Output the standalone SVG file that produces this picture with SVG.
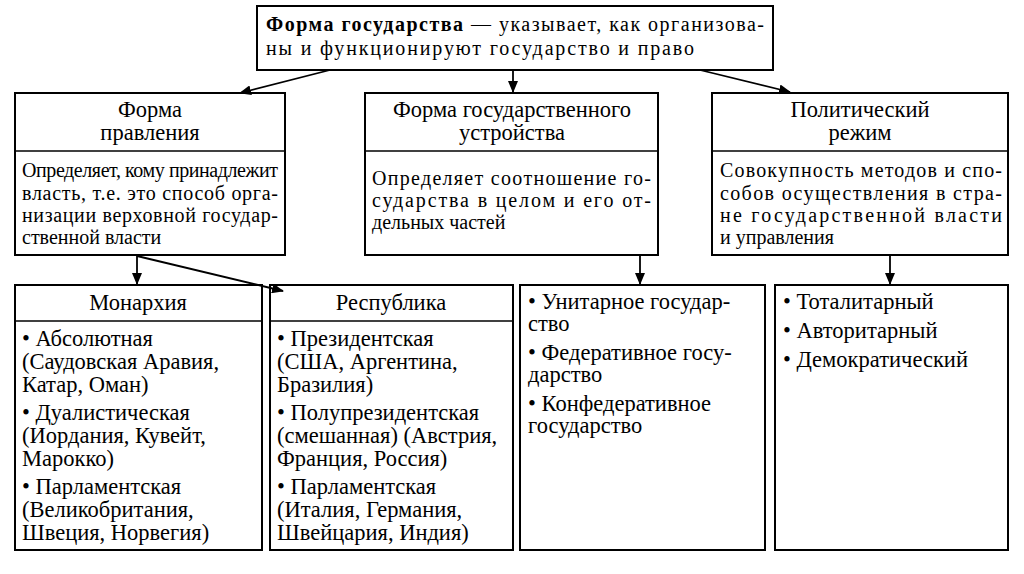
<svg xmlns="http://www.w3.org/2000/svg" width="1024" height="574" viewBox="0 0 1024 574">
<defs><marker id="a" markerWidth="12" markerHeight="10" refX="11" refY="5" orient="auto" markerUnits="userSpaceOnUse"><path d="M0,0 L12,5 L0,10 Z" fill="#000"/></marker></defs>
<style>
rect{fill:#fff;stroke:#000;stroke-width:2}
line.s{stroke:#000;stroke-width:1.5}
text{font-family:"Liberation Serif",serif;font-size:20px;fill:#000}
.c{text-anchor:middle}
.b text{font-size:22.5px}
.h{font-size:22.5px}
.con line{stroke:#000;stroke-width:1.8;marker-end:url(#a)}
</style>
<rect width="1024" height="574" style="fill:#fff;stroke:none"/>
<g id="top"><rect x="257" y="6" width="516" height="64"/>
<text x="266" y="31" textLength="498" lengthAdjust="spacing"><tspan font-weight="bold">Форма государства</tspan> — указывает, как организова-</text>
<text x="266" y="55" textLength="428" lengthAdjust="spacing">ны и функционируют государство и право</text></g>
<g id="fp"><rect x="15" y="93" width="270" height="162"/><line class="s" x1="15" y1="151" x2="285" y2="151"/>
<text class="c h" x="150" y="117">Форма</text><text class="c h" x="150" y="140">правления</text>
<text x="22" y="177" textLength="256" lengthAdjust="spacing">Определяет, кому принадлежит</text><text x="22" y="200" textLength="256" lengthAdjust="spacing">власть, т.е. это способ орга-</text><text x="22" y="222" textLength="256" lengthAdjust="spacing">низации верховной государ-</text><text x="22" y="244">ственной власти</text></g>
<g id="fu"><rect x="365" y="93" width="293" height="162"/><line class="s" x1="365" y1="151" x2="658" y2="151"/>
<text class="c h" x="512" y="117">Форма государственного</text><text class="c h" x="512" y="140">устройства</text>
<text x="372" y="185" textLength="279" lengthAdjust="spacing">Определяет соотношение го-</text><text x="372" y="207" textLength="279" lengthAdjust="spacing">сударства в целом и его от-</text><text x="372" y="229">дельных частей</text></g>
<g id="pr"><rect x="712" y="93" width="296" height="162"/><line class="s" x1="712" y1="151" x2="1008" y2="151"/>
<text class="c h" x="860" y="117">Политический</text><text class="c h" x="860" y="140">режим</text>
<text x="720" y="177" textLength="282" lengthAdjust="spacing">Совокупность методов и спо-</text><text x="720" y="200" textLength="282" lengthAdjust="spacing">собов осуществления в стра-</text><text x="720" y="222" textLength="282" lengthAdjust="spacing">не государственной власти</text><text x="720" y="244">и управления</text></g>
<g id="mon" class="b"><rect x="15" y="285" width="247" height="265"/><line class="s" x1="15" y1="321" x2="262" y2="321"/>
<text class="c" x="138" y="310">Монархия</text>
<text x="22" y="346">• Абсолютная</text><text x="22" y="369">(Саудовская Аравия,</text><text x="22" y="392">Катар, Оман)</text>
<text x="22" y="420">• Дуалистическая</text><text x="22" y="443">(Иордания, Кувейт,</text><text x="22" y="466">Марокко)</text>
<text x="22" y="494">• Парламентская</text><text x="22" y="517">(Великобритания,</text><text x="22" y="540">Швеция, Норвегия)</text></g>
<g id="rep" class="b"><rect x="270" y="285" width="243" height="265"/><line class="s" x1="270" y1="321" x2="513" y2="321"/>
<text class="c" x="391" y="310">Республика</text>
<text x="277" y="346">• Президентская</text><text x="277" y="369">(США, Аргентина,</text><text x="277" y="392">Бразилия)</text>
<text x="277" y="420">• Полупрезидентская</text><text x="277" y="443">(смешанная) (Австрия,</text><text x="277" y="466">Франция, Россия)</text>
<text x="277" y="494">• Парламентская</text><text x="277" y="517">(Италия, Германия,</text><text x="277" y="540">Швейцария, Индия)</text></g>
<g id="uni" class="b"><rect x="520" y="285" width="245" height="265"/>
<text x="528" y="309">• Унитарное государ-</text><text x="528" y="331">ство</text>
<text x="528" y="360">• Федеративное госу-</text><text x="528" y="382">дарство</text>
<text x="528" y="411">• Конфедеративное</text><text x="528" y="433">государство</text></g>
<g id="reg" class="b"><rect x="775" y="285" width="233" height="265"/>
<text x="783" y="309">• Тоталитарный</text><text x="783" y="338">• Авторитарный</text><text x="783" y="367">• Демократический</text></g>
<g class="con" id="connectors">
<line x1="330" y1="70" x2="240" y2="93"/>
<line x1="513" y1="70" x2="513" y2="92"/>
<line x1="700" y1="70" x2="790" y2="92"/>
<line x1="137" y1="255" x2="137" y2="284"/>
<line x1="137" y1="256" x2="283" y2="291"/>
<line x1="640" y1="255" x2="640" y2="284"/>
<line x1="890" y1="255" x2="890" y2="284"/>
</g>
</svg>
